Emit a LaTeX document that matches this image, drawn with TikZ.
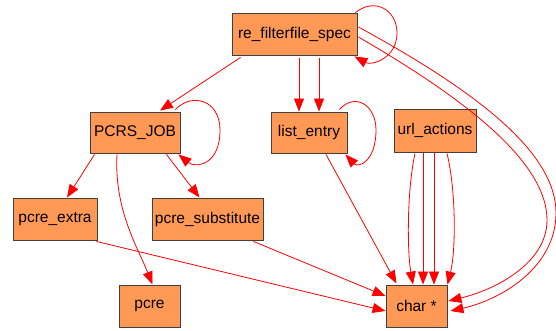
\documentclass[tikz,border=0pt]{standalone}
\usepackage{fontspec}
\setmainfont{Liberation Sans}
\usetikzlibrary{arrows.meta}
\definecolor{boxfill}{HTML}{FF9955}
\definecolor{boxline}{HTML}{404040}
\definecolor{edgered}{HTML}{FF0000}
\tikzset{
  box/.style={draw=boxline, fill=boxfill, line width=0.9pt, inner sep=0pt,
    font=\fontsize{15.5}{18}\selectfont},
  edge/.style={draw=edgered, line width=0.8pt, -{Triangle[length=13pt,width=10pt]}}
}
\begin{document}
\begin{tikzpicture}[x=1pt,y=-1pt]
\useasboundingbox (0,0) rectangle (556,331);
% nodes
\node[box, minimum width=125pt, minimum height=42pt] (rfs) at (294.5,34) {re\_filterfile\_spec};
\node[box, minimum width=76pt, minimum height=41pt] (le) at (309,132.5) {list\_entry};
\node[box, minimum width=82pt, minimum height=43pt] (ua) at (435,130.5) {url\_actions};
\node[box, minimum width=90pt, minimum height=41pt] (pj) at (135,132.5) {PCRS\_JOB};
\node[box, minimum width=84pt, minimum height=42pt] (pe) at (55,219) {pcre\_extra};
\node[box, minimum width=111pt, minimum height=42pt] (ps) at (207.5,219) {pcre\_substitute};
\node[box, minimum width=61pt, minimum height=42pt] (pc) at (149.5,306) {pcre};
\node[box, minimum width=61pt, minimum height=42pt] (ch) at (416.5,306) {char *};
% re_filterfile_spec edges
\draw[edge] ([xshift=9pt,yshift=-2pt]rfs.south west) -- ([xshift=25pt,yshift=1pt]pj.north);
\draw[edge] ([xshift=-2pt]rfs.north east) .. controls (375,-3) and (397,10) .. (397,33)
   .. controls (397,58) and (372,66) .. ([xshift=-3pt,yshift=-1pt]rfs.south east);
\draw[edge] ([xshift=4.5pt,yshift=-3pt]rfs.south) -- ([xshift=-10pt]le.north);
\draw[edge] ([xshift=24.5pt,yshift=-3pt]rfs.south) -- ([xshift=10pt]le.north);
\draw[edge] ([xshift=1pt,yshift=7pt]rfs.east) .. controls (470,88) and (556,150) .. (556,213)
   .. controls (556,268) and (500,300) .. ([xshift=3pt,yshift=-5pt]ch.east);
\draw[edge] ([xshift=1pt,yshift=-3pt]rfs.east) .. controls (460,96) and (547,160) .. (547,220)
   .. controls (547,264) and (494,290) .. ([xshift=1pt,yshift=5pt]ch.east);
% list_entry
\draw[edge] ([xshift=-8pt,yshift=2pt]le.north east) .. controls (355,92) and (376,105) .. (376,130)
   .. controls (376,162) and (358,168) .. ([xshift=-2pt,yshift=-1pt]le.south east);
\draw[edge] ([xshift=17pt,yshift=-1pt]le.south) -- ([xshift=-20pt,yshift=1pt]ch.north);
% url_actions
\draw[edge] ([xshift=-20pt,yshift=-1pt]ua.south) .. controls (407,190) and (407,250) .. ([xshift=-3.5pt]ch.north);
\draw[edge] ([xshift=-12pt,yshift=-1pt]ua.south) -- ([xshift=6.5pt]ch.north);
\draw[edge] ([xshift=-1pt,yshift=-1pt]ua.south) -- ([xshift=17.5pt]ch.north);
\draw[edge] ([xshift=12pt,yshift=-1pt]ua.south) .. controls (456,190) and (456,250) .. ([xshift=31pt]ch.north);
% PCRS_JOB
\draw[edge] ([xshift=-5pt,yshift=2pt]pj.north east) .. controls (192,92) and (220,100) .. (220,130)
   .. controls (220,166) and (195,168) .. ([xshift=-2pt,yshift=-1pt]pj.south east);
\draw[edge] ([xshift=5pt,yshift=-1pt]pj.south west) -- ([xshift=12pt]pe.north);
\draw[edge] ([xshift=-14pt,yshift=-1pt]pj.south east) -- ([xshift=-8pt]ps.north);
\draw[edge] ([xshift=-18pt,yshift=-1pt]pj.south) .. controls (114,210) and (138,248) .. ([xshift=3pt]pc.north);
% to char *
\draw[edge] ([xshift=-1pt,yshift=-1pt]pe.south east) -- ([yshift=-5pt]ch.west);
\draw[edge] ([xshift=-10pt,yshift=-1pt]ps.south east) -- ([yshift=10pt]ch.west);
\end{tikzpicture}
\end{document}
